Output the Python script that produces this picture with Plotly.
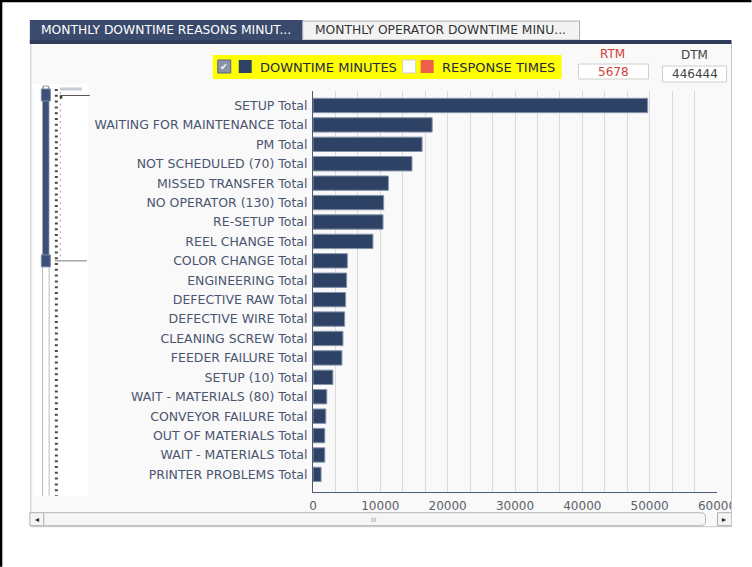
import plotly.graph_objects as go

categories = ["SETUP Total", "WAITING FOR MAINTENANCE Total", "PM Total",
              "NOT SCHEDULED (70) Total", "MISSED TRANSFER Total",
              "NO OPERATOR (130) Total", "RE-SETUP Total", "REEL CHANGE Total",
              "COLOR CHANGE Total", "ENGINEERING Total", "DEFECTIVE RAW Total",
              "DEFECTIVE WIRE Total", "CLEANING SCREW Total", "FEEDER FAILURE Total",
              "SETUP (10) Total", "WAIT - MATERIALS (80) Total",
              "CONVEYOR FAILURE Total", "OUT OF MATERIALS Total",
              "WAIT - MATERIALS Total", "PRINTER PROBLEMS Total"]
downtime_minutes = [49700, 17700, 16200, 14700, 11200, 10500, 10400, 8900,
                    5100, 5000, 4850, 4700, 4450, 4300, 2950, 2050, 1900,
                    1750, 1750, 1200]
x_tick_values = [0, 10000, 20000, 30000, 40000, 50000, 60000]
tab_labels = ["MONTHLY DOWNTIME REASONS MINUT...", "MONTHLY OPERATOR DOWNTIME MINU..."]
legend_labels = ["DOWNTIME MINUTES", "RESPONSE TIMES"]
rtm_value = "5678"
dtm_value = "446444"

FW, FH = 752, 567
L, R, T, B = 313.3, 717.5, 91.0, 492.3
W, H = R - L, B - T
NAVY = "#2d4265"
FONT = "DejaVu Sans"


def px(x):
    return (x - L) / W


def py(y):
    return 1 - (y - T) / H


shapes = []
annotations = []


def rect(x0, y0, x1, y1, fill, line=None, lw=1, layer="below"):
    shapes.append(dict(type="rect", xref="paper", yref="paper",
                       x0=px(x0), x1=px(x1), y0=py(y1), y1=py(y0),
                       fillcolor=fill, layer=layer,
                       line=dict(color=line or fill, width=lw if line else 0)))


def hline(x0, x1, y, color, width=1, dash=None, layer="below"):
    shapes.append(dict(type="line", xref="paper", yref="paper",
                       x0=px(x0), x1=px(x1), y0=py(y), y1=py(y), layer=layer,
                       line=dict(color=color, width=width, dash=dash)))


def vline(x, y0, y1, color, width=1, dash=None, layer="below"):
    shapes.append(dict(type="line", xref="paper", yref="paper",
                       x0=px(x), x1=px(x), y0=py(y0), y1=py(y1), layer=layer,
                       line=dict(color=color, width=width, dash=dash)))


def text(x, y, s, size=12, color="#333", xanchor="center", font=FONT):
    annotations.append(dict(xref="paper", yref="paper", x=px(x), y=py(y),
                            text=s, showarrow=False, xanchor=xanchor,
                            yanchor="middle", font=dict(family=font, size=size, color=color)))


# panel background
rect(31, 43, 732, 527, "#f9f9f9", "#c4c7cc", 1)
rect(33, 84, 88, 496, "#ffffff")
# tabs
rect(30, 20, 303, 43, "#3a4a6c")
rect(303, 21, 580, 40, "#f3f3f3", "#a9adb5", 1)
rect(30, 40, 732, 44, "#2e3c5a")
text(166, 30, tab_labels[0], 12.3, "#ffffff")
text(441, 30, tab_labels[1], 12.3, "#333333")

# legend
rect(213, 55, 562, 79, "#ffff00", layer="above")
rect(218, 60, 231, 73, "#8a93a8", "#5b6680", 1, layer="above")
text(224.5, 66.5, "✔", 9, "#ffffff")
rect(239, 60, 252, 73, NAVY, layer="above")
text(258, 67, legend_labels[0], 13, "#1e2a46", "left")
rect(403, 60, 416, 73, "#ffffff", "#d0d0d0", 1, layer="above")
rect(421, 60, 434, 73, "#ee5f4b", layer="above")
text(440, 67, legend_labels[1], 13, "#1e2a46", "left")

# RTM / DTM boxes
text(613, 54, "RTM", 12, "#d0403a")
rect(579, 64, 649, 79, "#ffffff", "#cfcfcf", 1, layer="above")
text(614, 72, rtm_value, 12, "#d0403a")
text(695, 55, "DTM", 12, "#444444")
rect(663, 66, 727, 82, "#ffffff", "#cfcfcf", 1, layer="above")
text(695, 74, dtm_value, 12, "#444444")

# vertical range slider
vline(42.7, 86, 496, "#b8bcc4", 1)
vline(49.3, 86, 496, "#b8bcc4", 1)
rect(43, 95, 49, 262, "#3c5078")
rect(43.5, 86, 48.5, 90, "#ffffff", "#9098a8", 1)
rect(41.5, 89, 50.5, 101, "#3d5079", "#7c8aa6", 1)
rect(41.5, 255, 50.5, 267, "#3d5079", "#7c8aa6", 1)
vline(56.5, 89, 496, "#4a4a4a", 3, "2px,3.8px")
vline(60.5, 92, 260, "#a0a0a0", 1, "2px,3.8px")
hline(60, 82, 89, "#c6cad2", 3)
hline(60, 90, 95.5, "#555555", 1)
rect(60, 96, 62.5, 98.5, "#333333")
hline(55, 87, 261, "#777777", 1)

# horizontal scrollbar
rect(30, 513, 44, 526, "#f4f4f4", "#b0b0b0", 1, layer="above")
text(37, 519.5, "◂", 8, "#222222")
shapes.append(dict(type="path", xref="paper", yref="paper", layer="above",
                   path="M {a},{b} L {c},{b} Q {d},{b} {d},{e} L {d},{f} Q {d},{g} {c},{g} L {a},{g} Z".format(
                       a=px(44), b=py(513), c=px(701), d=px(706), e=py(517), f=py(522), g=py(526)),
                   fillcolor="#f6f6f6", line=dict(color="#b5b5b5", width=1)))
text(374, 519.5, "III", 6, "#999999")
rect(718, 513, 732, 526, "#f4f4f4", "#b0b0b0", 1, layer="above")
text(725, 520, "▸", 8, "#222222")

# clip right of panel (cuts the last tick label)
rect(732.5, 495, 752, 512, "#ffffff", layer="above")
vline(732, 44, 527, "#c4c7cc", 1, layer="above")

# outer frame
shapes.append(dict(type="line", xref="paper", yref="paper", x0=px(0), x1=px(752),
                   y0=py(1), y1=py(1), line=dict(color="#000000", width=2.5), layer="above"))
shapes.append(dict(type="line", xref="paper", yref="paper", x0=px(1.2), x1=px(1.2),
                   y0=py(0), y1=py(567), line=dict(color="#000000", width=2.5), layer="above"))

fig = go.Figure(go.Bar(
    x=downtime_minutes, y=categories, orientation="h",
    marker=dict(color=NAVY, line=dict(color="#8593ab", width=1)),
    width=0.74,
))

fig.update_layout(
    width=FW, height=FH,
    margin=dict(l=L, r=FW - R, t=T, b=FH - B, pad=0),
    paper_bgcolor="#ffffff", plot_bgcolor="#ffffff",
    showlegend=False, bargap=0.2,
    shapes=shapes, annotations=annotations,
    font=dict(family=FONT),
    xaxis=dict(range=[0, 60000], tickvals=x_tick_values,
               ticktext=[str(v) for v in x_tick_values],
               showgrid=True, gridcolor="#dadada", gridwidth=1,
               minor=dict(dtick=10000 / 3, tick0=0, showgrid=True, gridcolor="#dadada", gridwidth=1),
               showline=True, linecolor="#4d5a78", linewidth=1,
               zeroline=False, ticks="", ticklabelstandoff=3,
               tickfont=dict(family=FONT, size=12, color="#5a5f6a")),
    yaxis=dict(categoryorder="array", categoryarray=categories,
               range=[19.906, -0.746], showgrid=False,
               showline=True, linecolor="#4d5a78", linewidth=1,
               ticks="", ticklabelstandoff=2,
               tickfont=dict(family=FONT, size=12.5, color="#4a5570")),
)

fig.write_html("out.html")
